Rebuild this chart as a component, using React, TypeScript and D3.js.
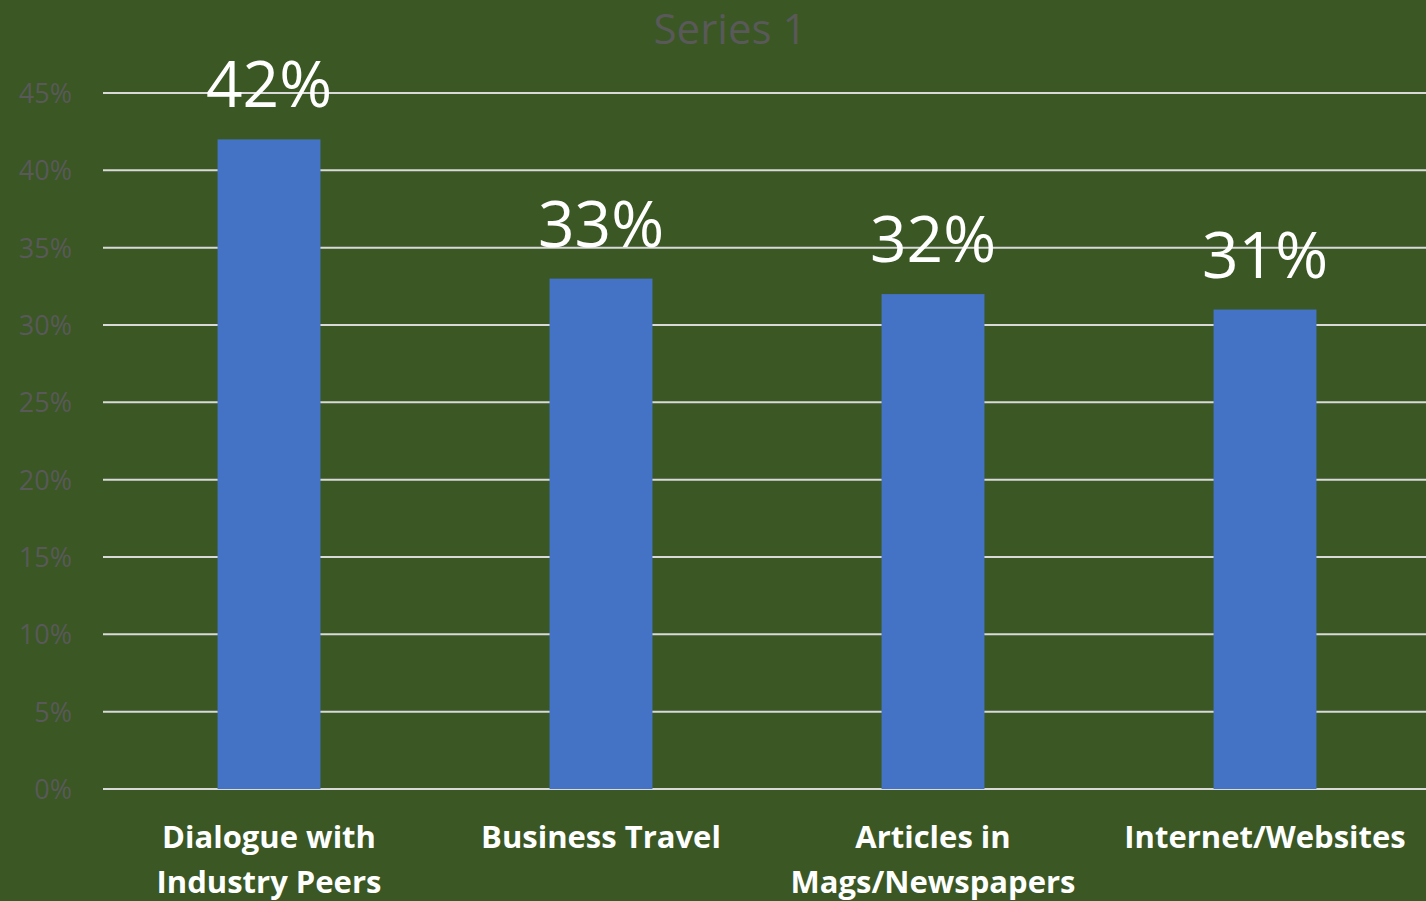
import React, { useEffect, useRef } from "react";
import * as d3 from "d3";

// chart data
const categories = ["Dialogue with Industry Peers", "Business Travel", "Articles in Mags/Newspapers", "Internet/Websites"];
const categoryLines = [["Dialogue with", "Industry Peers"], ["Business Travel"], ["Articles in", "Mags/Newspapers"], ["Internet/Websites"]];
const values = [0.42, 0.33, 0.32, 0.31];
const yTicks = [0, 0.05, 0.1, 0.15, 0.2, 0.25, 0.3, 0.35, 0.4, 0.45];
const seriesName = "Series 1";

const App = () => {
  const svgRef = useRef<SVGSVGElement>(null);
  const width = 1426;
  const height = 901;
  const marginTop = 93;
  const marginLeft = 103;
  const marginRight = -5;
  const marginBottom = 112;
  const font = "'Open Sans', 'DejaVu Sans', sans-serif";

  useEffect(() => {
    if (!svgRef.current) return;
    const svg = d3.select(svgRef.current);
    svg.selectAll("*").remove();

    svg
      .append("rect")
      .attr("width", width)
      .attr("height", height)
      .attr("fill", "#3A5724");

    const x = d3
      .scaleBand()
      .domain(categories)
      .range([marginLeft, width - marginRight])
      .paddingInner(0.69)
      .paddingOuter(0.345);

    const y = d3
      .scaleLinear()
      .domain([0, 0.45])
      .range([height - marginBottom, marginTop]);

    // gridlines
    svg
      .append("g")
      .selectAll("line")
      .data(yTicks)
      .join("line")
      .attr("x1", marginLeft)
      .attr("x2", width)
      .attr("y1", (d) => y(d))
      .attr("y2", (d) => y(d))
      .attr("stroke", "#D9D9D9")
      .attr("stroke-width", 2);

    // y tick labels
    svg
      .append("g")
      .selectAll("text")
      .data(yTicks)
      .join("text")
      .attr("x", 72)
      .attr("y", (d) => y(d) + 10)
      .attr("text-anchor", "end")
      .attr("fill", "#595959")
      .style("font-family", font)
      .style("font-size", "27px")
      .text((d) => d3.format(".0%")(d));

    // bars
    svg
      .append("g")
      .selectAll("rect")
      .data(values)
      .join("rect")
      .attr("x", (d, i) => x(categories[i])!)
      .attr("y", (d) => y(d))
      .attr("width", x.bandwidth())
      .attr("height", (d) => y(0) - y(d))
      .attr("fill", "#4472C4");

    // value labels
    svg
      .append("g")
      .selectAll("text")
      .data(values)
      .join("text")
      .attr("x", (d, i) => x(categories[i])! + x.bandwidth() / 2)
      .attr("y", (d) => y(d) - 32)
      .attr("text-anchor", "middle")
      .attr("fill", "white")
      .style("font-family", font)
      .style("font-size", "64px")
      .text((d) => d3.format(".0%")(d));

    // category labels
    const cat = svg
      .append("g")
      .selectAll("text")
      .data(categories)
      .join("text")
      .attr("text-anchor", "middle")
      .attr("fill", "white")
      .style("font-family", font)
      .style("font-size", "31px")
      .style("font-weight", "bold");
    cat.each(function (d, i) {
      const t = d3.select(this);
      categoryLines[i].forEach((line, j) => {
        t.append("tspan")
          .attr("x", x(d)! + x.bandwidth() / 2)
          .attr("y", 848 + j * 45)
          .text(line);
      });
    });

    // title
    svg
      .append("text")
      .attr("x", 730)
      .attr("y", 44)
      .attr("text-anchor", "middle")
      .attr("fill", "#595959")
      .style("font-family", font)
      .style("font-size", "42px")
      .text(seriesName);
  }, []);

  return (
    <svg
      ref={svgRef}
      width={width}
      height={height}
      style={{ position: "absolute", left: 0, top: 0, display: "block" }}
    ></svg>
  );
};

export default App;
